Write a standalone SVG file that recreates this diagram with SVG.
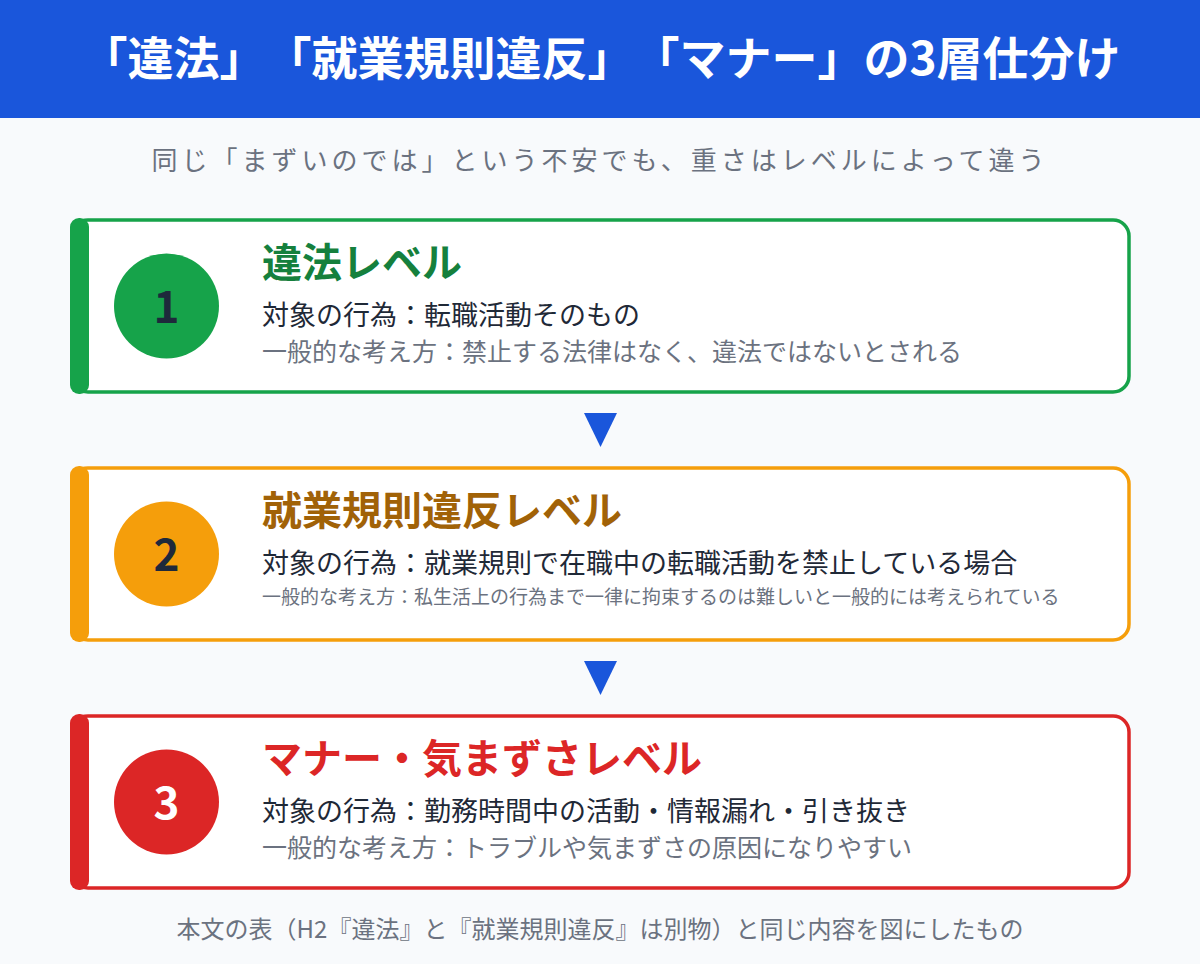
<svg xmlns="http://www.w3.org/2000/svg" width="1200" height="964" viewBox="0 0 1200 964">
<style>
text{font-family:"Noto Sans CJK JP","Noto Sans",sans-serif}
.title{font-size:46px;font-weight:700;fill:#ffffff;text-spacing-trim:space-all}
.sub{font-size:26px;fill:#6b7280;letter-spacing:4px}
.head{font-size:40px;font-weight:700}
.l2{font-size:27px;fill:#1f2937}
.l3{font-size:25px;fill:#6b7280}
.l3s{font-size:19px;fill:#6b7280}
.num{font-size:44px;font-weight:700;text-anchor:middle}
.foot{font-size:24px;fill:#6b7280}
.card{fill:#ffffff;stroke-width:3.5}
.arrow{fill:#1a56db}
</style>
<rect x="0" y="0" width="1200" height="964" fill="#f8fafc"/>
<rect x="0" y="0" width="1200" height="118" fill="#1a56db"/>
<text class="title" x="601" y="75" text-anchor="middle">「違法」「就業規則違反」「マナー」の3層仕分け</text>
<text class="sub" x="600" y="170" text-anchor="middle">同じ「まずいのでは」という不安でも、重さはレベルによって違う</text>

<g id="node1">
<rect class="card" x="72" y="220" width="1057" height="172" rx="16" stroke="#16a34a"/>
<rect x="70" y="218" width="19" height="176" rx="9" fill="#16a34a"/>
<circle cx="166.5" cy="306" r="52.5" fill="#16a34a"/>
<text class="num" x="166.5" y="323" fill="#1e293b">1</text>
<text class="head" x="262" y="277" fill="#15803d">違法レベル</text>
<text class="l2" x="262" y="325">対象の行為：転職活動そのもの</text>
<text class="l3" x="262" y="361">一般的な考え方：禁止する法律はなく、違法ではないとされる</text>
</g>

<g id="node2">
<rect class="card" x="72" y="468" width="1057" height="172" rx="16" stroke="#f59e0b"/>
<rect x="70" y="466" width="19" height="176" rx="9" fill="#f59e0b"/>
<circle cx="166.5" cy="554" r="52.5" fill="#f59e0b"/>
<text class="num" x="166.5" y="571" fill="#1e293b">2</text>
<text class="head" x="262" y="525" fill="#a16207">就業規則違反レベル</text>
<text class="l2" x="262" y="573">対象の行為：就業規則で在職中の転職活動を禁止している場合</text>
<text class="l3s" x="262" y="604">一般的な考え方：私生活上の行為まで一律に拘束するのは難しいと一般的には考えられている</text>
</g>

<g id="node3">
<rect class="card" x="72" y="716" width="1057" height="172" rx="16" stroke="#dc2626"/>
<rect x="70" y="714" width="19" height="176" rx="9" fill="#dc2626"/>
<circle cx="166.5" cy="802" r="52.5" fill="#dc2626"/>
<text class="num" x="166.5" y="819" fill="#ffffff">3</text>
<text class="head" x="262" y="773" fill="#dc2626">マナー・気まずさレベル</text>
<text class="l2" x="262" y="821">対象の行為：勤務時間中の活動・情報漏れ・引き抜き</text>
<text class="l3" x="262" y="857">一般的な考え方：トラブルや気まずさの原因になりやすい</text>
</g>

<g id="connectors">
<polygon class="arrow" points="584,413 617,413 600.5,447"/>
<polygon class="arrow" points="584,661 617,661 600.5,695"/>
</g>

<text class="foot" x="600" y="938" text-anchor="middle">本文の表（H2『違法』と『就業規則違反』は別物）と同じ内容を図にしたもの</text>
</svg>
